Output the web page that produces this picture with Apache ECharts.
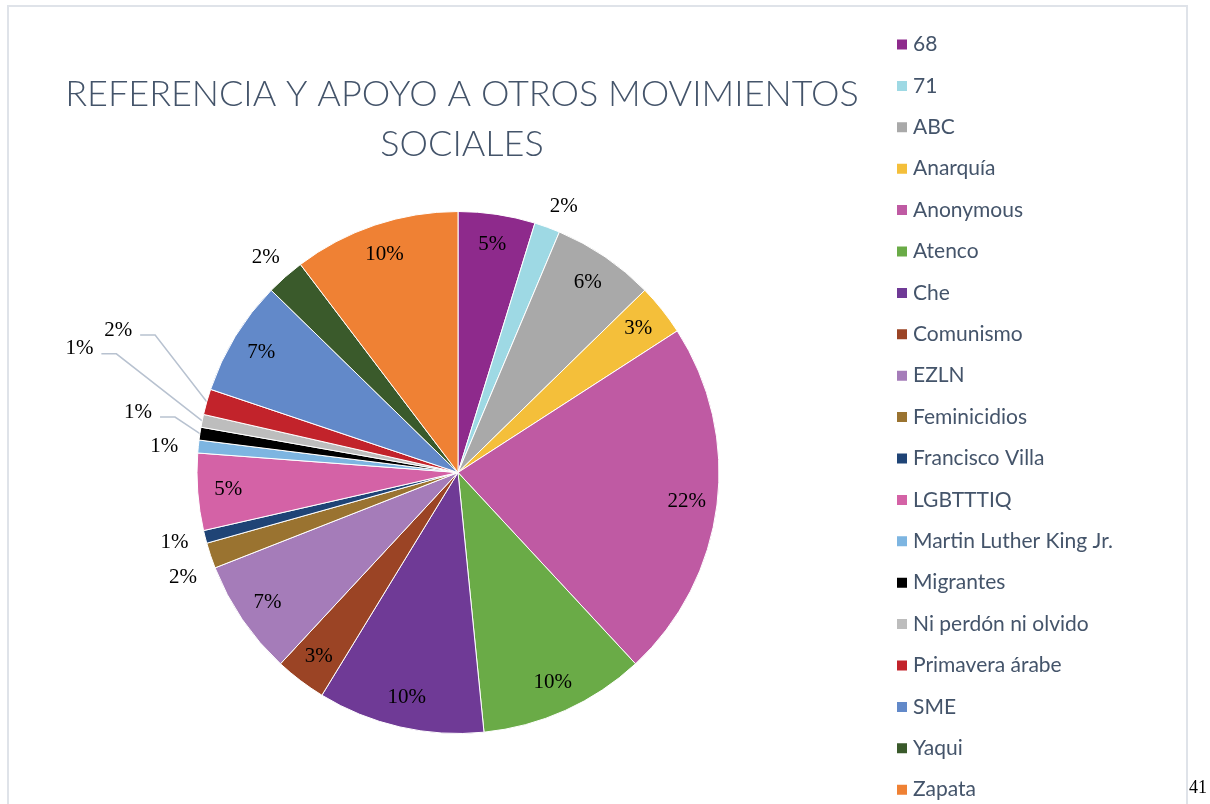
<!DOCTYPE html>
<html>
<head>
<meta charset="utf-8">
<title>Referencia y apoyo a otros movimientos sociales</title>
<script src="https://cdn.jsdelivr.net/npm/echarts@6/dist/echarts.min.js"></script>
<style>
html, body { margin: 0; padding: 0; background: #fff; }
#frame {
  position: absolute; left: 7px; top: 5px; width: 1181px; height: 830px;
  border: 2px solid #dfe3e9; border-bottom: none; box-sizing: border-box;
}
#chart { position: absolute; left: 0; top: 0; width: 1210px; height: 804px; }
</style>
</head>
<body>
<div id="frame"></div>
<div id="chart"></div>
<script>
const categories = ['68', '71', 'ABC', 'Anarquía', 'Anonymous', 'Atenco', 'Che', 'Comunismo', 'EZLN',
  'Feminicidios', 'Francisco Villa', 'LGBTTTIQ', 'Martin Luther King Jr.', 'Migrantes',
  'Ni perdón ni olvido', 'Primavera árabe', 'SME', 'Yaqui', 'Zapata']
const counts = [6, 2, 8, 4, 28, 13, 13, 4, 9, 2, 1, 6, 1, 1, 1, 2, 9, 3, 13]

// slices whose percentage sits outside the pie, and the ones with a leader line
const outsideNames = ['71', 'Feminicidios', 'Francisco Villa', 'Martin Luther King Jr.', 'Migrantes',
  'Ni perdón ni olvido', 'Primavera árabe', 'Yaqui']
const leaderNames = ['Migrantes', 'Ni perdón ni olvido', 'Primavera árabe']

const sliceColors = ['#8e2a8c', '#9ed9e4', '#a9a9a9', '#f4bf3a', '#bf5aa3', '#6aab47', '#6f3a96', '#9b4425',
  '#a57cb9', '#9a7330', '#1f4476', '#d462a6', '#7db5e1', '#000000', '#bdbdbd', '#c2232b', '#6289c9',
  '#3a5a2b', '#ef8134']

// nudge of the outside labels from where the pie puts them [dx, dy]
const labelShift = {
  '71': [-6, -11],
  'Yaqui': [6, -12],
  'Feminicidios': [1, 19],
  'Francisco Villa': [-2, 3],
  'Martin Luther King Jr.': [-5, 1],
  'Migrantes': [-33, -20],
  'Ni perdón ni olvido': [-94, -70],
  'Primavera árabe': [-60, -69]
}

const labelFont = { fontFamily: 'Liberation Serif', fontSize: 21, color: '#000', textBorderWidth: 0 }

const moveLabel = (p) => {
  const name = categories[p.dataIndex]
  const s = labelShift[name]
  if (!s) return {}
  const r = p.labelRect
  const x = (p.align === 'right' ? r.x + r.width : r.x) + s[0]
  const y = r.y + r.height / 2 + s[1]
  const out = { x: x, y: y, align: p.align, verticalAlign: 'middle' }
  if (leaderNames.includes(name) && p.labelLinePoints) {
    const lx = x + 8
    out.labelLinePoints = [p.labelLinePoints[0], [lx + 15, y + 5], [lx, y + 5]]
  }
  return out
}

const chart = echarts.init(document.getElementById('chart'))

chart.setOption({
  animation: false,
  backgroundColor: 'transparent',
  title: [
    {
      text: 'REFERENCIA Y APOYO A OTROS MOVIMIENTOS\nSOCIALES',
      left: 462,
      top: 69,
      textAlign: 'center',
      padding: 0,
      textStyle: { fontFamily: 'Lato', fontWeight: 300, fontSize: 36, lineHeight: 50, color: '#44546a' }
    },
    {
      text: '41',
      left: 1189,
      top: 779,
      padding: 0,
      textStyle: { fontFamily: 'Liberation Serif', fontWeight: 'normal', fontSize: 18, color: '#000' }
    }
  ],
  legend: {
    orient: 'vertical',
    left: 895,
    top: 34,
    height: 790,
    padding: 0,
    icon: 'rect',
    itemWidth: 12,
    itemHeight: 12,
    itemGap: 20.4,
    data: categories,
    textStyle: { fontFamily: 'Lato', fontSize: 21, color: '#44546a' }
  },
  series: [
    {
      type: 'pie',
      center: [458, 472.5],
      radius: 261,
      startAngle: 90,
      clockwise: true,
      avoidLabelOverlap: false,
      percentPrecision: 0,
      itemStyle: { borderColor: '#fff', borderWidth: 1 },
      label: Object.assign({ show: false, position: 'outside', formatter: '{d}%' }, labelFont),
      labelLine: { show: false, length: 10, length2: 0, lineStyle: { color: '#b8c2d0', width: 1.5 } },
      emphasis: { scale: false },
      labelLayout: moveLabel,
      data: categories.map((n, i) => ({
        name: n,
        value: counts[i],
        itemStyle: { color: sliceColors[i] },
        label: { show: outsideNames.includes(n) },
        labelLine: { show: leaderNames.includes(n) }
      }))
    },
    {
      // transparent ring, only used to place the inside labels near the rim
      type: 'pie',
      center: [458, 472.5],
      radius: [194, 261],
      startAngle: 90,
      clockwise: true,
      silent: true,
      percentPrecision: 0,
      itemStyle: { color: 'rgba(0,0,0,0)', borderWidth: 0 },
      label: Object.assign({ show: true, position: 'inside', formatter: '{d}%' }, labelFont),
      labelLine: { show: false },
      data: categories.map((n, i) => ({
        name: n,
        value: counts[i],
        label: { show: !outsideNames.includes(n) }
      }))
    }
  ]
})
</script>
</body>
</html>
